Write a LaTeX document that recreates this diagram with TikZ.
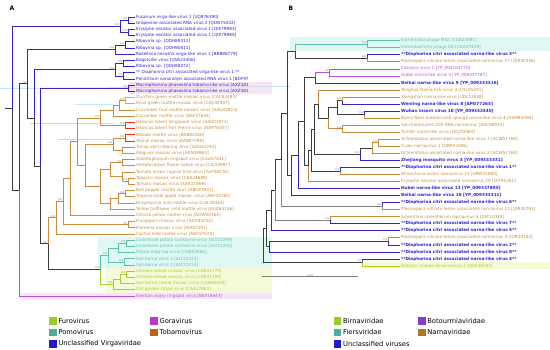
\documentclass[tikz,border=0pt]{standalone}
\usepackage{fontspec}
\setmainfont{DejaVu Sans}
\usetikzlibrary{calc}
\definecolor{cblue}{RGB}{50,35,205}
\definecolor{cpurp}{RGB}{185,80,220}
\definecolor{cbrown}{RGB}{200,140,60}
\definecolor{cteal}{RGB}{90,195,170}
\definecolor{cgreen}{RGB}{165,208,40}
\definecolor{cdark}{RGB}{60,60,60}
\definecolor{hpink}{RGB}{250,228,240}
\definecolor{hcyan}{RGB}{224,248,244}
\definecolor{hyell}{RGB}{246,250,216}
\definecolor{hpurp}{RGB}{246,228,250}
\definecolor{qgreen}{RGB}{150,205,40}
\definecolor{qteal}{RGB}{75,175,150}
\definecolor{qblue}{RGB}{35,25,200}
\definecolor{qpurp}{RGB}{190,50,205}
\definecolor{qbrown}{RGB}{190,95,30}
\definecolor{qbpurp}{RGB}{135,60,205}
\definecolor{qnarn}{RGB}{175,120,35}
\newcommand\tn[4]{\coordinate (#1m) at ($(#3)!.5!(#4)$);\coordinate (#1) at (#2,0 |- #1m);}
\newcommand\lf[5]{\coordinate (#1) at (#2,#3);\node[lab,text=#4] (l#1) at (#1) {#5};}
\newcommand\ed[3]{\draw[#1] (#2) |- (#3);}
\begin{document}
\begin{tikzpicture}[x=1pt,y=-1pt,line width=0.65pt,
  lab/.style={anchor=west,inner sep=0.8pt,font=\fontsize{4.2}{4.7}\selectfont},
  bs/.style={anchor=south east,inner sep=0.3pt,text=gray,font=\fontsize{2.4}{2.6}\selectfont},
  leg/.style={anchor=west,inner sep=1.2pt,font=\fontsize{6.7}{7.5}\selectfont},
  sq/.style={minimum width=7.7pt,minimum height=7.7pt,inner sep=0pt},
  B/.style={cblue},P/.style={cpurp},N/.style={cbrown},T/.style={cteal},G/.style={cgreen},K/.style={cdark}]
\useasboundingbox (0,0) rectangle (550,350);
\fill[white] (0,0) rectangle (550,350);
% highlights panel A
\fill[hpink] (128,82.2) rectangle (272,94.4);
\fill[hcyan] (98,237.1) rectangle (272,268.1);
\fill[hyell] (105,268.1) rectangle (272,292.9);
\fill[hpurp] (20,292.9) rectangle (272,299.2);
\draw[cyan!40,line width=0.5pt] (0,88.5) -- (290,86.5);
\draw[magenta!25,line width=0.8pt] (30,123) -- (113,123);
\draw[magenta!25,line width=0.8pt] (58,139) -- (113,139);
\draw[cyan!25,line width=0.8pt] (75,104) -- (113,104);
% highlights panel B
\fill[hcyan] (290,37.2) rectangle (550,51.2);
\fill[hyell] (362,262.5) rectangle (550,269.5);
% panel letters
\node[font=\bfseries\fontsize{6}{7}\selectfont,inner sep=0pt] (pA) at (12,8) {A};
\node[font=\bfseries\fontsize{6}{7}\selectfont,inner sep=0pt] (pB) at (291,8) {B};
% ================= PANEL A leaves =================
\begin{scope}
\clip (0,0) rectangle (270,300);
\lf{a1}{135}{17.0}{cblue}{Fusarium virga-like virus 1 [UQ876390]}
\lf{a2}{135}{23.2}{cblue}{Grapevine-associated RNA virus 2 [QON75432]}
\lf{a3}{135}{29.4}{cblue}{Erysiphe necator associated virus 1 [QIK79983]}
\lf{a4}{135}{35.6}{cblue}{Erysiphe necator associated virus 1 [QIK79985]}
\lf{a5}{135}{41.8}{cblue}{Riboviria sp. [QDH89311]}
\lf{a6}{135}{48.0}{cblue}{Riboviria sp. [QDH90611]}
\lf{a7}{135}{54.2}{cblue}{Rosellinia necatrix virga-like virus 1 [BBB86779]}
\lf{a8}{135}{60.4}{cblue}{Bagotville virus [QVA22406]}
\lf{a9}{135}{66.6}{cblue}{Riboviria sp. [QDH88072]}
\lf{a10}{135}{72.8}{cblue}{** Diaphorina citri associated virga-like virus 1 **}
\lf{a11}{135}{79.0}{cblue}{Penicillium vanoranjei associated RNA virus 1 [BDF97}
\lf{a12}{135}{85.2}{cblue}{Macrophomina phaseolina tobamo-like virus [AXZ181}
\lf{a13}{135}{91.4}{cblue}{Macrophomina phaseolina tobamo-like virus [AXZ181}
\end{scope}
\lf{a14}{135}{97.6}{cbrown}{Zucchini green mottle mosaic virus [CAC82483]}
\lf{a15}{135}{103.8}{cbrown}{Kyuri green mottle mosaic virus [CAC44907]}
\lf{a16}{135}{110.0}{cbrown}{Cucumber fruit mottle mosaic virus [AAG42815]}
\lf{a17}{135}{116.2}{cbrown}{Cucumber mottle virus [BAF37644]}
\lf{a18}{135}{122.4}{cbrown}{Hibiscus latent Singapore virus [AAQ03071]}
\lf{a19}{135}{128.6}{cbrown}{Hibiscus latent Fort Pierce virus [BAP76307]}
\lf{a20}{135}{134.8}{cbrown}{Wasabi mottle virus [BAB82440]}
\lf{a21}{135}{141.0}{cbrown}{Youcai mosaic virus [AAB07599]}
\lf{a22}{135}{147.2}{cbrown}{Turnip vein-clearing virus [AAO22783]}
\lf{a23}{135}{153.4}{cbrown}{Ribgrass mosaic virus [AEN39863]}
\lf{a24}{135}{159.6}{cbrown}{Odontoglossum ringspot virus [CAA57641]}
\lf{a25}{135}{165.8}{cbrown}{Streptocarpus flower break virus [CAJ13997]}
\lf{a26}{135}{172.0}{cbrown}{Tomato brown rugose fruit virus [ALP48476]}
\lf{a27}{135}{178.2}{cbrown}{Tobacco mosaic virus [CAA24688]}
\lf{a28}{135}{184.4}{cbrown}{Tomato mosaic virus [AAK17869]}
\lf{a29}{135}{190.6}{cbrown}{Bell pepper mottle virus [ABC87831]}
\lf{a30}{135}{196.8}{cbrown}{Tropical soda apple mosaic virus [ANF29780]}
\lf{a31}{135}{203.0}{cbrown}{Brugmansia mild mottle virus [CAL39164]}
\lf{a32}{135}{209.2}{cbrown}{Yellow tailflower mild mottle virus [AGZ63146]}
\lf{a33}{135}{215.4}{cbrown}{Clitoria yellow mottle virus [ADW50164]}
\lf{a34}{135}{221.6}{cbrown}{Frangipani mosaic virus [ADV83254]}
\lf{a35}{135}{227.8}{cbrown}{Plumeria mosaic virus [AIA57391]}
\lf{a36}{135}{234.0}{cbrown}{Cactus mild mottle virus [ABX57620]}
\lf{a37}{135}{240.2}{cteal}{Colombian potato soil-borne virus [ALT22299]}
\lf{a38}{135}{246.4}{cteal}{Colombian potato soil-borne virus [ALT22300]}
\lf{a39}{135}{252.6}{cteal}{Potato mop-top virus [CAB53564]}
\lf{a40}{135}{258.8}{cteal}{Soil-borne virus 2 [ALT22313]}
\lf{a41}{135}{265.0}{cteal}{Soil-borne virus 2 [ALT22314]}
\lf{a42}{135}{271.2}{cgreen}{Chinese wheat mosaic virus [CAB41770]}
\lf{a43}{135}{277.4}{cgreen}{Chinese wheat mosaic virus [CAB41789]}
\lf{a44}{135}{283.6}{cgreen}{Soil-borne cereal mosaic virus [CAB46609]}
\lf{a45}{135}{289.8}{cgreen}{Oat golden stripe virus [CAA17883]}
\lf{a46}{135}{296.0}{cpurp}{Gentian ovary ringspot virus [BAF18643]}
% ================= PANEL A tree =================
\tn{A12}{128}{a1}{a2}\tn{A34}{128}{a3}{a4}\tn{AI}{120}{A12}{A34}
\tn{A56}{125}{a5}{a6}\tn{AB}{115}{A56}{a7}
\tn{A89}{123}{a8}{a9}\tn{A1011}{123}{a10}{a11}\tn{AC}{115}{A89}{A1011}
\tn{AM}{128}{a12}{a13}
\tn{T1415}{125}{a14}{a15}\tn{T16}{119}{T1415}{a16}\tn{T17}{113}{T16}{a17}
\tn{TH}{125}{a18}{a19}\tn{T5}{100}{T17}{TH}
\tn{TW1}{125}{a20}{a21}\tn{TW2}{122}{a22}{a23}\tn{TW}{113}{TW1}{TW2}
\tn{TO}{122}{a24}{a25}\tn{TT}{128}{a27}{a28}\tn{TM}{122}{a26}{TT}\tn{TOT}{110}{TO}{TM}
\tn{TB}{125}{a29}{a30}\tn{TB2}{118}{TB}{a31}\tn{TB3}{110}{TB2}{a32}\tn{TS}{100}{TOT}{TB3}
\tn{T6}{85}{TW}{TS}\tn{T4}{77}{T5}{T6}\tn{T3}{70}{T4}{a33}
\tn{TFP}{128}{a34}{a35}\tn{T2}{63}{T3}{TFP}\tn{T1}{56}{T2}{a36}
\tn{P1}{126}{a37}{a38}\tn{P2}{118}{P1}{a39}\tn{P3}{124}{a40}{a41}\tn{PO}{108}{P2}{P3}
\tn{F1}{126}{a42}{a43}\tn{F2}{120}{F1}{a44}\tn{FU}{113}{F2}{a45}
\tn{PF}{100}{PO}{FU}
\tn{N5}{48.3}{T1}{PF}\tn{N4}{40.7}{AM}{N5}\tn{N3}{34.5}{AC}{N4}
\tn{N2}{27}{AB}{N3}\tn{N1}{19}{N2}{a46}\tn{RA}{12}{AI}{N1}
\coordinate (RA0) at (5,0 |- RA);
\draw[K] (RA0) -- (RA);
\ed{B}{RA}{AI}\ed{K}{RA}{N1}
\ed{B}{AI}{A12}\ed{B}{AI}{A34}\ed{B}{A12}{a1}\ed{B}{A12}{a2}\ed{B}{A34}{a3}\ed{B}{A34}{a4}
\ed{K}{N1}{N2}\ed{P}{N1}{a46}
\ed{B}{N2}{AB}\ed{K}{N2}{N3}
\ed{B}{AB}{A56}\ed{B}{AB}{a7}\ed{B}{A56}{a5}\ed{B}{A56}{a6}
\ed{B}{N3}{AC}\ed{K}{N3}{N4}
\ed{B}{AC}{A89}\ed{B}{AC}{A1011}\ed{B}{A89}{a8}\ed{B}{A89}{a9}\ed{B}{A1011}{a10}\ed{B}{A1011}{a11}
\ed{B}{N4}{AM}\ed{K}{N4}{N5}\ed{B}{AM}{a12}\ed{B}{AM}{a13}
\ed{N}{N5}{T1}\ed{K}{N5}{PF}
\ed{N}{T1}{T2}\ed{N}{T1}{a36}\ed{N}{T2}{T3}\ed{N}{T2}{TFP}\ed{N}{TFP}{a34}\ed{N}{TFP}{a35}
\ed{N}{T3}{T4}\ed{N}{T3}{a33}\ed{N}{T4}{T5}\ed{N}{T4}{T6}
\ed{N}{T5}{T17}\ed{N}{T5}{TH}\ed{N}{T17}{T16}\ed{N}{T17}{a17}\ed{N}{T16}{T1415}\ed{N}{T16}{a16}
\ed{G}{T1415}{a14}\ed{G}{T1415}{a15}\ed{red!70!cbrown}{TH}{a18}\ed{red!70!cbrown}{TH}{a19}
\ed{N}{T6}{TW}\ed{N}{T6}{TS}\ed{N}{TW}{TW1}\ed{N}{TW}{TW2}
\ed{red!70!cbrown}{TW1}{a20}\ed{red!70!cbrown}{TW1}{a21}\ed{N}{TW2}{a22}\ed{N}{TW2}{a23}
\ed{N}{TS}{TOT}\ed{N}{TS}{TB3}\ed{N}{TOT}{TO}\ed{N}{TOT}{TM}\ed{N}{TO}{a24}\ed{N}{TO}{a25}
\ed{N}{TM}{a26}\ed{N}{TM}{TT}\ed{N}{TT}{a27}\ed{N}{TT}{a28}
\ed{N}{TB3}{TB2}\ed{N}{TB3}{a32}\ed{N}{TB2}{TB}\ed{N}{TB2}{a31}\ed{N}{TB}{a29}\ed{N}{TB}{a30}
\ed{T}{PF}{PO}\ed{G}{PF}{FU}
\ed{T}{PO}{P2}\ed{T}{PO}{P3}\ed{T}{P2}{P1}\ed{T}{P2}{a39}\ed{T}{P1}{a37}\ed{T}{P1}{a38}\ed{T}{P3}{a40}\ed{T}{P3}{a41}
\ed{G}{FU}{F2}\ed{G}{FU}{a45}\ed{G}{F2}{F1}\ed{G}{F2}{a44}\ed{G}{F1}{a42}\ed{G}{F1}{a43}
\foreach \n in {AI,A12,A34,AB,A56,AC,A89,A1011,AM,N2,N5,T1,T2,TFP,T5,T1415,TH,TW1,TW,TO,TT,TB,PF,PO,P1,P3,FU,F1}
  {\node[bs] (bs\n) at (\n) {100};}
% ================= PANEL B leaves =================
\lf{b1}{400}{40.70}{cteal}{Escherichia phage MS2 [CAA23991]}
\lf{b2}{400}{47.74}{cteal}{Enterobacteria phage GA [CAA27459]}
\lf{b3}{400}{54.78}{cblue}{\bfseries **Diaphorina citri associated narna-like virus 3**}
\lf{b4}{400}{61.82}{cbrown}{Plasmopara viticola lesion associated narnavirus 27 [QIR30306]}
\lf{b5}{400}{68.86}{cpurp}{Cassava virus C [YP\_003104770]}
\lf{b6}{400}{75.90}{cpurp}{Hubei narna-like virus 3 [YP\_009337787]}
\lf{b7}{400}{82.94}{cblue}{\bfseries Beihai narna-like virus 9 [YP\_009333316]}
\lf{b8}{400}{89.98}{cbrown}{Tonghua Narna tick virus 3 [UYL95391]}
\lf{b9}{400}{97.02}{cbrown}{Xiangshan narna-like virus [UDL13948]}
\lf{b10}{400}{104.06}{cblue}{\bfseries Wenling narna-like virus 8 [APG77265]}
\lf{b11}{400}{111.10}{cblue}{\bfseries Wuhan insect virus 18 [YP\_009342440]}
\lf{b12}{400}{118.14}{cbrown}{Barns Ness breadcrumb sponge narna-like virus 4 [ASM94069]}
\lf{b13}{400}{125.18}{cbrown}{Saccharomyces 20S RNA narnavirus [AAC98925]}
\lf{b14}{400}{132.22}{cbrown}{Tymfer narna-like virus [QGJ70064]}
\lf{b15}{400}{139.26}{cbrown}{Ochlerotatus-associated narna-like virus 1 [ACW51766]}
\lf{b16}{400}{146.30}{cbrown}{Culex narnavirus 1 [QBR53296]}
\lf{b17}{400}{153.34}{cbrown}{Ochlerotatus-associated narna-like virus 2 [ACW51768]}
\lf{b18}{400}{160.38}{cblue}{\bfseries Zhejiang mosquito virus 3 [YP\_009333331]}
\lf{b19}{400}{167.42}{cblue}{\bfseries **Diaphorina citri associated narna-like virus 1**}
\lf{b20}{400}{174.46}{cbrown}{Rhizoctonia solani narnavirus 13 [URW15880]}
\lf{b21}{400}{181.50}{cbrown}{Erysiphe necator associated narnavirus 29 [QIT95761]}
\lf{b22}{400}{188.54}{cblue}{\bfseries Hubei narna-like virus 13 [YP\_009337805]}
\lf{b23}{400}{195.58}{cblue}{\bfseries Beihai narna-like virus 18 [YP\_009333311]}
\lf{b24}{400}{202.62}{cblue}{\bfseries **Diaphorina citri associated narna-like virus 6**}
\lf{b25}{400}{209.66}{cbrown}{Plasmopara viticola lesion associated narnavirus 12 [QIR30791]}
\lf{b26}{400}{216.70}{cbrown}{Sclerotinia sclerotiorum narnavirus 4 [QIZ11025]}
\lf{b27}{400}{223.74}{cblue}{\bfseries **Diaphorina citri associated narna-like virus 7**}
\lf{b28}{400}{230.78}{cblue}{\bfseries **Diaphorina citri associated narna-like virus 5**}
\lf{b29}{400}{237.82}{cbrown}{Plasmopara viticola lesion associated narnavirus 4 [QIR30183]}
\lf{b30}{400}{244.86}{cblue}{\bfseries **Diaphorina citri associated narna-like virus 2**}
\lf{b31}{400}{251.90}{cblue}{\bfseries **Diaphorina citri associated narna-like virus 8**}
\lf{b32}{400}{258.94}{cblue}{\bfseries **Diaphorina citri associated narna-like virus 4**}
\lf{b33}{400}{265.98}{cgreen}{Botrytis cinerea binarnavirus 2 [QUF49184]}
% ================= PANEL B tree =================
\tn{BF}{367}{b1}{b2}\tn{BG}{367}{b3}{b4}\tn{BFG}{295}{BF}{BG}
\tn{BP}{329}{b5}{b6}\tn{BQ}{315}{BP}{b7}
\tn{BX1}{342}{b9}{b10}\tn{BX2}{364}{b11}{b12}\tn{BX3}{337}{BX1}{BX2}
\tn{BX4}{342}{b13}{b14}\tn{BX5}{328}{BX3}{BX4}\tn{BW1}{318}{b8}{BX5}
\tn{BY1}{378}{b15}{b16}\tn{BY2}{372}{BY1}{b17}\tn{BY3}{360}{BY2}{b18}
\tn{BW2}{314}{BW1}{BY3}\tn{BV}{340}{b19}{b20}\tn{BW3}{311}{BW2}{BV}
\tn{BW4}{308}{BW3}{b21}\tn{BR1}{304}{BQ}{BW4}\tn{BW5}{298}{BR1}{b22}
\tn{BR2}{291}{BW5}{b23}\tn{BR3}{287}{BFG}{BR2}
\tn{BD6}{382}{b24}{b25}\tn{BR4}{281}{BR3}{BD6}
\tn{BD7}{330}{b26}{b27}\tn{BR5}{275}{BR4}{BD7}\tn{BR6}{271}{BR5}{b28}
\tn{BS0}{388}{b29}{b30}\tn{BS1}{269}{BS0}{b31}\tn{BR7}{266}{BR6}{BS1}
\tn{BZ}{362}{b32}{b33}\tn{BRt}{263}{BR7}{BZ}
\ed{K}{BRt}{BR7}\ed{K}{BRt}{BZ}\ed{B}{BZ}{b32}\ed{G}{BZ}{b33}
\ed{K}{BR7}{BR6}\ed{K}{BR7}{BS1}\ed{K}{BS1}{BS0}\ed{B}{BS1}{b31}\ed{N}{BS0}{b29}\ed{B}{BS0}{b30}
\ed{K}{BR6}{BR5}\ed{B}{BR6}{b28}\ed{K}{BR5}{BR4}\ed{gray}{BR5}{BD7}\ed{N}{BD7}{b26}\ed{B}{BD7}{b27}
\ed{K}{BR4}{BR3}\ed{gray}{BR4}{BD6}\ed{B}{BD6}{b24}\ed{N}{BD6}{b25}
\ed{K}{BR3}{BFG}\ed{K}{BR3}{BR2}
\ed{T}{BFG}{BF}\ed{K}{BFG}{BG}\ed{T}{BF}{b1}\ed{T}{BF}{b2}\ed{B}{BG}{b3}\ed{N}{BG}{b4}
\ed{K}{BR2}{BW5}\ed{B}{BR2}{b23}\ed{K}{BW5}{BR1}\ed{B}{BW5}{b22}
\ed{K}{BR1}{BQ}\ed{K}{BR1}{BW4}\ed{P}{BQ}{BP}\ed{B}{BQ}{b7}\ed{P}{BP}{b5}\ed{P}{BP}{b6}
\ed{K}{BW4}{BW3}\ed{N}{BW4}{b21}\ed{K}{BW3}{BW2}\ed{K}{BW3}{BV}\ed{B}{BV}{b19}\ed{N}{BV}{b20}
\ed{K}{BW2}{BW1}\ed{K}{BW2}{BY3}\ed{K}{BY3}{BY2}\ed{B}{BY3}{b18}\ed{N}{BY2}{BY1}\ed{N}{BY2}{b17}\ed{N}{BY1}{b15}\ed{N}{BY1}{b16}
\ed{N}{BW1}{b8}\ed{K}{BW1}{BX5}\ed{K}{BX5}{BX3}\ed{N}{BX5}{BX4}\ed{N}{BX4}{b13}\ed{N}{BX4}{b14}
\ed{K}{BX3}{BX1}\ed{K}{BX3}{BX2}\ed{N}{BX1}{b9}\ed{B}{BX1}{b10}\ed{B}{BX2}{b11}\ed{N}{BX2}{b12}
\foreach \n in {BF,BG,BX1,BX2,BX4,BY1,BY3,BV,BD6,BD7,BS0,BZ}
  {\node[bs] (bs\n) at (\n) {100};}
\node[bs] (bsBP) at (BP) {96};
% scale bar
\coordinate (sb1) at (262,276.7);\coordinate (sb2) at (358,276.7);
\draw[gray,line width=0.5pt] (sb1) -- (sb2);
\node[bs,anchor=south] (sbl) at ($(sb1)!.5!(sb2)$) {0.600};
% ================= legends =================
\node[sq,fill=qgreen] (sqA1) at (52.8,321.2) {};\node[leg] (tA1) at (sqA1.east) {Furovirus};
\node[sq,fill=qpurp] (sqA2) at (154,321.2) {};\node[leg] (tA2) at (sqA2.east) {Goravirus};
\node[sq,fill=qteal] (sqA3) at (52.8,332.4) {};\node[leg] (tA3) at (sqA3.east) {Pomovirus};
\node[sq,fill=qbrown] (sqA4) at (154,332.4) {};\node[leg] (tA4) at (sqA4.east) {Tobamovirus};
\node[sq,fill=qblue] (sqA5) at (52.8,343.7) {};\node[leg] (tA5) at (sqA5.east) {Unclassified Virgaviridae};
\node[sq,fill=qgreen] (sqB1) at (337.5,321.2) {};\node[leg] (tB1) at (sqB1.east) {Birnaviridae};
\node[sq,fill=qbpurp] (sqB2) at (421.7,321.2) {};\node[leg] (tB2) at (sqB2.east) {Botourmiaviridae};
\node[sq,fill=qteal] (sqB3) at (337.5,332.4) {};\node[leg] (tB3) at (sqB3.east) {Fiersviridae};
\node[sq,fill=qnarn] (sqB4) at (421.7,332.4) {};\node[leg] (tB4) at (sqB4.east) {Narnaviridae};
\node[sq,fill=qblue] (sqB5) at (337.5,343.7) {};\node[leg] (tB5) at (sqB5.east) {Unclassified viruses};
\end{tikzpicture}
\end{document}
